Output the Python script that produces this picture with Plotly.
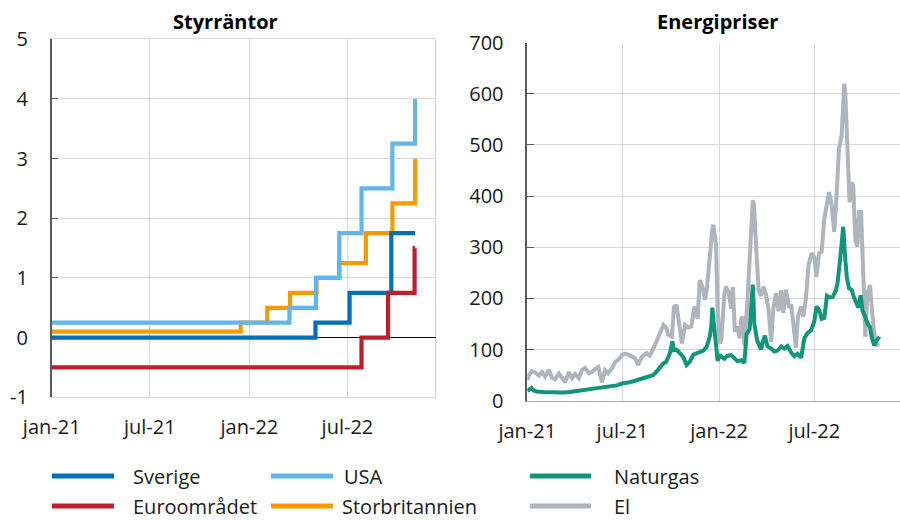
import plotly.graph_objects as go

# ---------------- Styrräntor (procent), stegserier: datum för ändring -> ny nivå
sverige_dates = ["2021-01-01", "2022-05-03", "2022-07-05", "2022-09-20", "2022-11-03"]
sverige_rates = [0.0, 0.25, 0.75, 1.75, 1.75]

usa_dates = ["2021-01-01", "2022-03-16", "2022-05-04", "2022-06-16", "2022-07-27",
             "2022-09-22", "2022-11-03"]
usa_rates = [0.25, 0.5, 1.0, 1.75, 2.5, 3.25, 4.0]

euro_dates = ["2021-01-01", "2022-07-27", "2022-09-14", "2022-11-02", "2022-11-03"]
euro_rates = [-0.5, 0.0, 0.75, 1.5, 1.5]

uk_dates = ["2021-01-01", "2021-12-16", "2022-02-03", "2022-03-17", "2022-05-05",
            "2022-06-16", "2022-08-04", "2022-09-22", "2022-11-03"]
uk_rates = [0.1, 0.25, 0.5, 0.75, 1.0, 1.25, 1.75, 2.25, 3.0]

# ---------------- Energipriser
gas_dates = [
    "2021-01-01", "2021-01-05", "2021-01-09", "2021-01-13", "2021-01-19", "2021-01-31",
    "2021-02-13", "2021-02-26", "2021-03-10", "2021-03-23", "2021-04-05", "2021-04-17",
    "2021-04-30", "2021-05-13", "2021-05-25", "2021-06-07", "2021-06-20", "2021-07-02",
    "2021-07-15", "2021-07-28", "2021-08-09", "2021-08-22", "2021-08-28", "2021-09-04",
    "2021-09-10", "2021-09-16", "2021-09-22", "2021-09-29", "2021-10-04", "2021-10-07",
    "2021-10-12", "2021-10-18", "2021-10-25", "2021-10-31", "2021-11-06", "2021-11-13",
    "2021-11-19", "2021-11-25", "2021-12-02", "2021-12-08", "2021-12-14", "2021-12-17",
    "2021-12-19", "2021-12-22", "2021-12-25", "2021-12-29", "2022-01-02", "2022-01-05",
    "2022-01-11", "2022-01-17", "2022-01-24", "2022-01-30", "2022-02-05", "2022-02-12",
    "2022-02-18", "2022-02-22", "2022-02-28", "2022-03-04", "2022-03-06", "2022-03-09",
    "2022-03-14", "2022-03-19", "2022-03-22", "2022-03-25", "2022-03-29", "2022-04-03",
    "2022-04-10", "2022-04-16", "2022-04-22", "2022-04-29", "2022-05-05", "2022-05-11",
    "2022-05-18", "2022-05-24", "2022-05-30", "2022-06-06", "2022-06-12", "2022-06-18",
    "2022-06-25", "2022-07-01", "2022-07-05", "2022-07-10", "2022-07-15", "2022-07-20",
    "2022-07-25", "2022-07-29", "2022-08-05", "2022-08-11", "2022-08-14", "2022-08-19",
    "2022-08-24", "2022-08-25", "2022-08-29", "2022-09-01", "2022-09-05", "2022-09-10",
    "2022-09-15", "2022-09-19", "2022-09-23", "2022-09-27", "2022-10-01", "2022-10-06",
    "2022-10-10", "2022-10-15", "2022-10-18", "2022-10-23", "2022-10-26", "2022-10-31",
    "2022-11-03",
]
gas_values = [
    19, 21, 25, 20, 18, 17,
    16, 16, 16, 17, 19, 21,
    23, 25, 26, 28, 30, 34,
    36, 40, 44, 47, 50, 57,
    65, 72, 76, 92, 116, 99,
    100, 93, 85, 70, 76, 90,
    92, 95, 98, 105, 125, 145,
    182, 150, 125, 78, 90, 86,
    82, 88, 89, 82, 77, 79,
    74, 130, 140, 200, 227, 150,
    119, 106, 100, 115, 127, 106,
    102, 96, 98, 106, 102, 107,
    94, 87, 92, 84, 122, 132,
    138, 155, 184, 178, 160, 162,
    205, 202, 203, 215, 229, 275,
    320, 340, 275, 240, 220, 217,
    200, 190, 182, 206, 175, 164,
    151, 144, 125, 108, 116, 122,
    120,
]

el_dates = [
    "2021-01-01", "2021-01-04", "2021-01-10", "2021-01-16", "2021-01-23", "2021-01-29",
    "2021-02-04", "2021-02-11", "2021-02-17", "2021-02-23", "2021-03-02", "2021-03-08",
    "2021-03-14", "2021-03-21", "2021-03-27", "2021-04-02", "2021-04-09", "2021-04-15",
    "2021-04-21", "2021-04-28", "2021-05-04", "2021-05-10", "2021-05-16", "2021-05-23",
    "2021-05-29", "2021-06-04", "2021-06-11", "2021-06-17", "2021-06-23", "2021-06-30",
    "2021-07-06", "2021-07-12", "2021-07-18", "2021-07-25", "2021-07-31", "2021-08-07",
    "2021-08-16", "2021-08-22", "2021-08-29", "2021-09-04", "2021-09-10", "2021-09-17",
    "2021-09-22", "2021-09-26", "2021-10-03", "2021-10-07", "2021-10-12", "2021-10-16",
    "2021-10-22", "2021-10-28", "2021-11-03", "2021-11-09", "2021-11-15", "2021-11-21",
    "2021-11-25", "2021-11-30", "2021-12-05", "2021-12-09", "2021-12-14", "2021-12-19",
    "2021-12-21", "2021-12-26", "2021-12-29", "2022-01-02", "2022-01-05", "2022-01-08",
    "2022-01-11", "2022-01-14", "2022-01-19", "2022-01-24", "2022-01-27", "2022-01-31",
    "2022-02-05", "2022-02-09", "2022-02-12", "2022-02-15", "2022-02-18", "2022-02-24",
    "2022-03-01", "2022-03-06", "2022-03-08", "2022-03-12", "2022-03-17", "2022-03-22",
    "2022-03-26", "2022-03-31", "2022-04-05", "2022-04-10", "2022-04-14", "2022-04-19",
    "2022-04-24", "2022-04-29", "2022-05-03", "2022-05-08", "2022-05-14", "2022-05-18",
    "2022-05-24", "2022-05-27", "2022-05-31", "2022-06-06", "2022-06-10", "2022-06-15",
    "2022-06-20", "2022-06-26", "2022-07-01", "2022-07-05", "2022-07-10", "2022-07-15",
    "2022-07-20", "2022-07-24", "2022-07-29", "2022-08-03", "2022-08-08", "2022-08-12",
    "2022-08-17", "2022-08-22", "2022-08-25", "2022-08-27", "2022-08-29", "2022-09-02",
    "2022-09-06", "2022-09-10", "2022-09-13", "2022-09-17", "2022-09-21", "2022-09-24",
    "2022-09-28", "2022-10-02", "2022-10-06", "2022-10-10", "2022-10-15", "2022-10-18",
    "2022-10-23", "2022-10-27", "2022-10-31",
]
el_values = [
    40, 50, 58, 55, 49, 56,
    47, 60, 45, 42, 53, 45,
    36, 56, 44, 52, 44, 60,
    64, 54, 56, 62, 66, 36,
    60, 54, 63, 75, 80, 89,
    92, 90, 86, 83, 70, 86,
    93, 88, 102, 117, 135, 148,
    143, 129, 125, 183, 187, 151,
    112, 148, 143, 145, 184, 160,
    236, 223, 197, 223, 290, 335,
    344, 305, 180, 112, 119, 158,
    210, 223, 212, 180, 222, 135,
    145, 122, 160, 164, 108, 200,
    290, 392, 385, 314, 215, 205,
    223, 208, 177, 115, 180, 210,
    175, 216, 172, 217, 182, 188,
    140, 104, 165, 184, 164, 200,
    265, 289, 280, 242, 288, 292,
    356, 382, 408, 382, 330, 395,
    493, 519, 587, 620, 600, 506,
    388, 427, 421, 314, 301, 369,
    369, 249, 125, 210, 226, 184,
    132, 112, 106,
]

# Axis ticks
tick_dates = ["2021-01-01", "2021-07-01", "2022-01-01", "2022-07-01"]
tick_labels = ["jan-21", "jul-21", "jan-22", "jul-22"]
x_range = ["2021-01-01", "2022-12-11"]
rate_ticks = [-1, 0, 1, 2, 3, 4, 5]
rate_tick_labels = ["-1", "0", "1", "2", "3", "4", "5"]

W, H = 900, 521
FONT = "Open Sans"
GRID = "#D9D9D9"
TEXT = "#1A1A1A"

colors = {
    "Sverige": "#0070B8",
    "USA": "#62B5EE",
    "Euroområdet": "#BE1E2D",
    "Storbritannien": "#F59B00",
    "Naturgas": "#11967C",
    "El": "#B0B4BB",
}

fig = go.Figure()

# Left panel: drawing order keeps the UK line underneath the others
rate_series = [
    ("Storbritannien", uk_dates, uk_rates),
    ("Sverige", sverige_dates, sverige_rates),
    ("USA", usa_dates, usa_rates),
    ("Euroområdet", euro_dates, euro_rates),
]
for name, d, v in rate_series:
    fig.add_trace(go.Scatter(
        x=d, y=v, name=name, mode="lines", line_shape="hv",
        line=dict(color=colors[name], width=4.2),
        xaxis="x", yaxis="y", showlegend=False,
    ))

# Right panel (gas drawn on top of electricity)
fig.add_trace(go.Scatter(
    x=el_dates, y=el_values, name="El", mode="lines",
    line=dict(color=colors["El"], width=4), xaxis="x2", yaxis="y2", showlegend=False,
))
fig.add_trace(go.Scatter(
    x=gas_dates, y=gas_values, name="Naturgas", mode="lines",
    line=dict(color=colors["Naturgas"], width=4), xaxis="x2", yaxis="y2", showlegend=False,
))


def px_x(p):
    return p / W


def px_y(p):
    return 1 - p / H


common_x = dict(
    type="date", range=x_range, tickmode="array", tickvals=tick_dates,
    ticktext=tick_labels, showgrid=True, gridcolor=GRID, gridwidth=1.3,
    ticks="", zeroline=False, ticklabelstandoff=12,
    tickfont=dict(family=FONT, size=20, color=TEXT),
)

fig.update_layout(
    width=W, height=H,
    margin=dict(l=0, r=0, t=0, b=0, autoexpand=False),
    paper_bgcolor="white", plot_bgcolor="white",
    font=dict(family=FONT, size=20, color=TEXT),
    showlegend=False,
    xaxis=dict(common_x, domain=[px_x(51.7), px_x(435.7)], anchor="y",
               showline=True, linecolor=GRID, linewidth=1.3, mirror=True),
    yaxis=dict(
        domain=[px_y(397.3), px_y(39.3)], range=[-1, 5], anchor="x",
        tickmode="array", tickvals=rate_ticks, ticktext=rate_tick_labels,
        showgrid=True, gridcolor=GRID, gridwidth=1.3,
        zeroline=True, zerolinecolor="#000000", zerolinewidth=1,
        showline=True, linecolor="#595959", linewidth=1.5,
        ticks="inside", ticklen=7, tickcolor="#595959", tickwidth=1.3,
        ticklabelstandoff=18,
        tickfont=dict(family=FONT, size=20, color=TEXT),
    ),
    xaxis2=dict(common_x, domain=[px_x(527.3), 1.0], anchor="y2",
                showline=True, linecolor="#A6A6A6", linewidth=1.3),
    yaxis2=dict(
        domain=[px_y(400.7), px_y(42.7)], range=[0, 700], dtick=100, anchor="x2",
        showgrid=True, gridcolor=GRID, gridwidth=1.3, zeroline=False,
        showline=True, linecolor="#595959", linewidth=1.5,
        ticks="inside", ticklen=7, tickcolor="#595959", tickwidth=1.3,
        ticklabelstandoff=18,
        tickfont=dict(family=FONT, size=20, color=TEXT),
    ),
)

# Right-hand frame of the left panel
fig.add_shape(type="line", xref="x domain", yref="y domain", x0=1, x1=1, y0=0, y1=1,
              line=dict(color=GRID, width=1.3), layer="below")

# Panel titles
fig.add_annotation(text="<b>Styrräntor</b>", x=px_x(225), y=px_y(22), xref="paper",
                   yref="paper", showarrow=False, xanchor="center", yanchor="middle",
                   font=dict(family=FONT, size=20, color="#000000"))
fig.add_annotation(text="<b>Energipriser</b>", x=px_x(717), y=px_y(22), xref="paper",
                   yref="paper", showarrow=False, xanchor="center", yanchor="middle",
                   font=dict(family=FONT, size=20, color="#000000"))

# Legend keys: (name, line start, line end, text start, row y) in pixels
legend_items = [
    ("Sverige", 52, 114, 131, 476),
    ("USA", 271, 333, 342, 476),
    ("Euroområdet", 52, 114, 131, 506),
    ("Storbritannien", 271, 333, 340, 506),
    ("Naturgas", 530, 591, 612, 476),
    ("El", 530, 591, 612, 506),
]
for name, x0, x1, tx, yy in legend_items:
    fig.add_shape(type="line", xref="paper", yref="paper",
                  x0=px_x(x0), x1=px_x(x1), y0=px_y(yy), y1=px_y(yy),
                  line=dict(color=colors[name], width=5))
    fig.add_annotation(text=name, x=px_x(tx), y=px_y(yy), xref="paper", yref="paper",
                       showarrow=False, xanchor="left", yanchor="middle",
                       font=dict(family=FONT, size=20, color=TEXT))

fig.write_html("out.html")
